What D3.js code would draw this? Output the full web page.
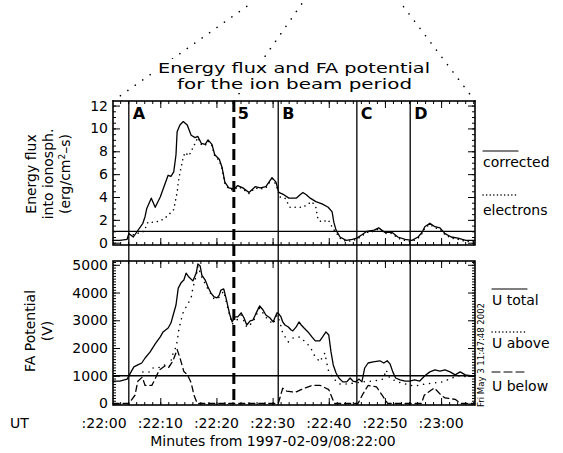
<!DOCTYPE html>
<html><head><meta charset="utf-8">
<script src="https://cdn.jsdelivr.net/npm/d3@7"></script>
<style>
body{margin:0;background:#fff;}
svg{display:block;}
text{font-family:"DejaVu Sans",sans-serif;fill:#000;}
</style></head>
<body>
<svg id="chart" width="563" height="453"></svg>
<script>
// ---------- data (time in seconds after 08:22:00) ----------
const timeTicks = [0, 10, 20, 30, 40, 50, 60];
const timeTickLabels = [":22:00", ":22:10", ":22:20", ":22:30", ":22:40", ":22:50", ":23:00"];
const fluxTicks = [0, 2, 4, 6, 8, 10, 12];
const potTicks = [0, 1000, 2000, 3000, 4000, 5000];

const intervalNames = ["A", "5", "B", "C", "D"];
const intervalTimes = [4.4, 23.1, 31.0, 45.0, 54.5];
const intervalDashed = [false, true, false, false, false];

const fluxThreshold = 1.0;     // erg/cm^2-s
const potThreshold = 1000;     // V

const fluxCorrected = [[1.6,0.2],[2.8,0.2],[4.1,0.3],[4.4,0.8],[5.2,0.5],[6.9,1.7],[7.3,2.3],[7.6,3.0],[8.4,3.9],[9.1,3.1],[10.0,4.0],[10.8,5.1],[11.4,5.9],[11.9,5.8],[12.4,6.2],[12.8,7.7],[13.0,9.7],[13.5,10.3],[14.1,10.6],[14.8,10.3],[15.5,9.4],[16.2,9.2],[16.7,9.3],[17.3,8.7],[18.0,8.6],[18.5,9.0],[19.2,8.6],[19.7,7.7],[20.5,7.3],[21.0,6.6],[21.5,5.3],[22.2,4.8],[23.1,4.7],[23.8,5.0],[24.7,4.8],[25.8,4.4],[26.9,4.9],[27.8,4.8],[28.8,4.9],[29.9,5.7],[30.6,5.3],[31.1,4.4],[32.0,4.2],[32.9,3.9],[34.2,3.9],[34.9,4.2],[35.4,4.4],[36.0,4.2],[36.7,3.9],[37.7,3.6],[38.8,3.4],[39.9,3.1],[40.6,2.7],[40.9,1.8],[41.3,1.1],[42.0,0.5],[43.1,0.2],[44.2,0.3],[45.0,0.4],[45.9,0.7],[46.8,1.0],[48.1,1.1],[48.9,1.3],[50.0,0.9],[51.3,0.9],[52.3,0.5],[53.6,0.3],[54.8,0.2],[55.9,0.5],[56.6,0.9],[57.1,1.4],[58.0,1.7],[58.9,1.4],[59.8,1.3],[60.7,0.8],[61.8,0.5],[63.0,0.4],[64.4,0.2],[66.0,0.2]];

const fluxElectrons = [[5.2,0.7],[7.1,1.0],[7.8,1.8],[8.7,1.8],[10.0,1.9],[11.2,2.3],[12.4,2.9],[13.0,4.4],[13.2,5.3],[13.5,6.1],[14.1,7.5],[14.4,7.9],[15.1,7.6],[15.8,8.3],[16.7,9.2],[17.3,8.6],[18.0,8.5],[18.5,8.9],[19.2,8.5],[19.7,7.6],[20.5,7.2],[21.0,6.5],[21.5,5.2],[22.2,4.7],[23.1,4.6],[23.8,4.9],[24.7,4.7],[25.8,4.3],[26.9,4.8],[27.8,4.7],[28.8,4.8],[29.9,5.6],[30.6,5.1],[31.3,4.0],[32.2,3.9],[33.1,3.1],[34.5,3.1],[35.4,3.1],[37.0,3.6],[37.7,3.1],[38.1,2.0],[38.8,1.8],[39.9,2.0],[40.8,1.2],[41.3,0.9],[42.0,0.4],[43.1,0.1],[44.2,0.2],[45.0,0.3],[45.9,0.6],[46.8,0.9],[48.1,1.0],[48.9,1.2],[50.0,0.8],[51.3,0.8],[52.3,0.4],[53.6,0.2],[54.8,0.1],[55.9,0.4],[56.6,0.8],[57.1,1.3],[58.0,1.6],[58.9,1.3],[59.8,1.2],[60.7,0.7],[61.8,0.4],[63.0,0.3],[64.4,0.1],[66.0,0.1]];

const uTotal = [[1.6,810],[2.8,810],[4.1,880],[4.8,1140],[5.3,1320],[6.0,1390],[6.7,1460],[7.3,1640],[8.2,1860],[9.1,2150],[10.0,2400],[10.5,2580],[11.4,2720],[11.9,2900],[12.3,3190],[12.8,3550],[13.2,4160],[13.7,4350],[14.2,4450],[14.6,4700],[15.1,4560],[15.8,4420],[16.4,4700],[16.7,5030],[17.1,4960],[17.4,4630],[18.0,4450],[18.5,4200],[19.0,3990],[19.6,3840],[20.1,3810],[20.5,3910],[20.8,4090],[21.3,4130],[21.7,3810],[22.1,3450],[22.4,3190],[22.8,2940],[23.3,3120],[23.8,3120],[24.4,3270],[24.9,3090],[25.4,2830],[26.0,2980],[26.5,3010],[27.0,3230],[27.7,3520],[28.3,3370],[28.8,3190],[29.5,3090],[30.1,2940],[30.4,3090],[30.8,3270],[31.1,3230],[31.5,3120],[31.8,2940],[32.2,2830],[32.8,2760],[33.3,2650],[33.6,2620],[34.2,2760],[34.7,2940],[35.1,2830],[35.6,2720],[36.3,2580],[37.0,2400],[37.6,2260],[38.4,2260],[38.9,2400],[39.5,2580],[40.0,2470],[40.4,1860],[40.8,1390],[41.3,1100],[41.8,920],[42.5,780],[43.2,780],[43.8,920],[44.3,810],[44.8,780],[45.4,880],[45.9,780],[46.4,1280],[47.0,1460],[47.9,1500],[49.1,1540],[49.8,1460],[50.4,1540],[50.9,1430],[51.4,1140],[51.9,920],[52.7,850],[53.6,810],[54.4,810],[55.3,850],[56.2,810],[57.1,1000],[58.0,1140],[58.9,1210],[59.8,1170],[60.7,1210],[61.6,1140],[62.5,1030],[63.4,1140],[64.3,1030],[65.2,1000],[66.0,1000]];

const uAbove = [[6.9,1140],[8.2,1140],[8.7,1280],[9.6,1280],[10.7,1390],[11.6,1320],[12.3,1820],[12.6,1930],[13.0,2220],[13.3,2650],[13.7,3010],[14.1,3300],[14.8,3550],[15.5,3810],[15.8,4160],[16.4,4600],[16.7,4950],[17.4,4550],[18.5,4120],[19.6,3760],[20.5,3830],[21.3,4050],[22.1,3370],[22.8,2860],[23.8,3040],[24.4,3190],[25.4,2750],[26.5,2930],[27.7,3440],[28.8,3110],[30.1,2860],[30.8,3190],[31.3,2940],[31.8,2540],[32.8,2220],[33.6,2360],[34.9,2400],[36.7,2040],[37.4,1750],[38.4,1500],[39.3,1820],[39.9,1210],[40.8,900],[42.0,700],[43.4,700],[44.8,750],[46.1,780],[47.9,810],[49.7,880],[50.2,1210],[50.9,900],[52.7,750],[55.2,630],[57.1,700],[60.2,780],[63.0,1000],[65.2,950]];

const uBelow = [[1.6,0],[4.4,0],[5.5,300],[6.0,800],[6.8,950],[7.3,650],[8.5,650],[9.0,850],[9.8,1200],[10.8,1350],[11.5,1300],[12.3,1550],[13.0,1950],[13.5,1650],[14.2,1150],[14.8,1050],[15.5,750],[16.0,300],[16.6,0],[31.0,0],[31.8,550],[32.5,450],[34.0,400],[35.6,550],[37.0,650],[38.5,650],[40.0,500],[41.0,0],[45.2,0],[46.1,350],[47.0,650],[48.5,600],[49.5,300],[50.5,0],[56.5,0],[57.0,300],[58.8,560],[60.0,300],[60.7,200],[62.5,150],[63.5,0],[66.0,0]];

// ---------- layout ----------
const svg = d3.select("#chart");
const L = 113, R = 475;
const topP = {t: 101, b: 245};
const botP = {t: 261, b: 405};

const x = d3.scaleLinear().domain([0, 60]).range([104.1, 441.1]);
const yTop = d3.scaleLinear().domain([-0.2, 12.4]).range([topP.b, topP.t]);
const yBot = d3.scaleLinear().domain([-54, 5137]).range([botP.b, botP.t]);
const xMin = x.invert(L), xMax = x.invert(R);

// zoom indicator dotted lines above the panels
const zoomLines = [[[L, topP.t], [253, 2]], [[x(intervalTimes[1]), topP.t], [303, 2]], [[R, topP.t], [400, 2]]];
svg.append("g").selectAll("line").data(zoomLines).join("line")
  .attr("x1", d => d[0][0]).attr("y1", d => d[0][1])
  .attr("x2", d => d[1][0]).attr("y2", d => d[1][1])
  .attr("stroke", "#000").attr("stroke-width", 1.6)
  .attr("stroke-linecap", "round")
  .attr("stroke-dasharray", "0.1,9");

// title
const titleG = svg.append("g");
titleG.append("rect").attr("x", 155).attr("y", 59).attr("width", 280).attr("height", 34).attr("fill", "#fff");
titleG.append("text").attr("x", 158).attr("y", 73).attr("font-size", 14)
  .attr("textLength", 272).attr("lengthAdjust", "spacingAndGlyphs").text("Energy flux and FA potential");
titleG.append("text").attr("x", 177).attr("y", 89).attr("font-size", 14)
  .attr("textLength", 235).attr("lengthAdjust", "spacingAndGlyphs").text("for the ion beam period");

function rangeStep(a, b, s) { const out = []; for (let v = a; v <= b + 1e-9; v += s) out.push(+v.toFixed(4)); return out; }

function drawPanel(P, y, majors, minorStep, labelFmt) {
  const g = svg.append("g");
  const minors = rangeStep(majors[0], y.domain()[1], minorStep).filter(v => v >= y.domain()[0] && v <= y.domain()[1]);
  g.append("g").attr("transform", `translate(${L},0)`)
    .call(d3.axisLeft(y).tickValues(minors).tickSize(-3).tickFormat(""));
  g.append("g").attr("transform", `translate(${L},0)`)
    .call(d3.axisLeft(y).tickValues(majors).tickSize(-7).tickPadding(5).tickFormat(labelFmt));
  g.append("g").attr("transform", `translate(${R},0)`)
    .call(d3.axisRight(y).tickValues(minors).tickSize(-3).tickFormat(""));
  g.append("g").attr("transform", `translate(${R},0)`)
    .call(d3.axisRight(y).tickValues(majors).tickSize(-7).tickFormat(""));
  const xMinors = rangeStep(0, 70, 10 / 7).filter(v => v >= xMin && v <= xMax);
  const xMajors = timeTicks.filter(v => v >= xMin && v <= xMax);
  g.append("g").attr("transform", `translate(0,${P.t})`)
    .call(d3.axisTop(x).tickValues(xMinors).tickSize(-3).tickFormat(""));
  g.append("g").attr("transform", `translate(0,${P.t})`)
    .call(d3.axisTop(x).tickValues(xMajors).tickSize(-7).tickFormat(""));
  g.append("g").attr("transform", `translate(0,${P.b})`)
    .call(d3.axisBottom(x).tickValues(xMinors).tickSize(-3).tickFormat(""));
  g.append("g").attr("transform", `translate(0,${P.b})`)
    .call(d3.axisBottom(x).tickValues(xMajors).tickSize(-7).tickFormat(""));
  g.selectAll(".domain").remove();
  g.selectAll(".tick line").attr("stroke", "#000").attr("stroke-width", 1);
  g.selectAll(".tick text").attr("font-size", 14).attr("font-family", "DejaVu Sans").attr("fill", "#000");
  g.append("rect").attr("x", L).attr("y", P.t).attr("width", R - L).attr("height", P.b - P.t)
    .attr("fill", "none").attr("stroke", "#000").attr("stroke-width", 1.6);
  return g;
}

drawPanel(topP, yTop, fluxTicks, 0.5, d3.format("d"));
drawPanel(botP, yBot, potTicks, 100, d3.format("d"));

// threshold lines
svg.append("line").attr("x1", L).attr("x2", R).attr("y1", yTop(fluxThreshold)).attr("y2", yTop(fluxThreshold))
  .attr("stroke", "#000").attr("stroke-width", 1.3);
svg.append("line").attr("x1", L).attr("x2", R).attr("y1", yBot(potThreshold)).attr("y2", yBot(potThreshold))
  .attr("stroke", "#000").attr("stroke-width", 1.3);

// curves
function curve(data, y, dash, w) {
  const line = d3.line().x(d => x(d[0])).y(d => y(d[1]));
  svg.append("path").datum(data).attr("d", line).attr("fill", "none")
    .attr("stroke", "#000").attr("stroke-width", w)
    .attr("stroke-linejoin", "round").attr("stroke-linecap", "round")
    .attr("stroke-dasharray", dash);
}
curve(fluxElectrons, yTop, "0.1,5", 1.5);
curve(fluxCorrected, yTop, null, 1.3);
curve(uAbove, yBot, "0.1,6", 1.5);
curve(uBelow, yBot, "6,4", 1.3);
curve(uTotal, yBot, null, 1.3);

// interval lines & labels
intervalTimes.forEach((t, i) => {
  svg.append("line").attr("x1", x(t)).attr("x2", x(t)).attr("y1", topP.t).attr("y2", botP.b)
    .attr("stroke", "#000")
    .attr("stroke-width", intervalDashed[i] ? 3 : 1.3)
    .attr("stroke-dasharray", intervalDashed[i] ? "11,5" : null);
  svg.append("text").attr("x", x(t) + 4).attr("y", 119)
    .attr("font-size", 16).attr("font-weight", "bold").text(intervalNames[i]);
});

// axis titles
function vText(lines, cx, cy, gap) {
  lines.forEach((s, i) => {
    const t = svg.append("text").attr("transform", `translate(${cx + i * gap},${cy}) rotate(-90)`)
      .attr("text-anchor", "middle").attr("font-size", 14);
    if (Array.isArray(s)) {
      s.forEach(p => t.append("tspan").attr("baseline-shift", p.sup ? "super" : null)
        .attr("font-size", p.sup ? 9 : null).text(p.t));
    } else t.text(s);
  });
}
vText(["Energy flux", "into ionosph.", [{t: "(erg/cm"}, {t: "2", sup: true}, {t: "\u2013s)"}]], 36, 174, 17);
vText(["FA Potential", "(V)"], 35, 331, 17);

// x tick labels
svg.append("g").selectAll("text").data(timeTicks).join("text")
  .attr("x", d => x(d)).attr("y", 428).attr("text-anchor", "middle").attr("font-size", 14)
  .text((d, i) => timeTickLabels[i]);
svg.append("text").attr("x", 10).attr("y", 428).attr("font-size", 14).text("UT");
svg.append("text").attr("x", 273).attr("y", 446).attr("text-anchor", "middle").attr("font-size", 14)
  .text("Minutes from 1997-02-09/08:22:00");

// legends
function legend(x0, y0, label, dash, ty) {
  svg.append("line").attr("x1", x0).attr("x2", x0 + 35).attr("y1", y0).attr("y2", y0)
    .attr("stroke", "#000").attr("stroke-width", dash && dash.startsWith("0.1") ? 1.5 : 1.2)
    .attr("stroke-linecap", "round").attr("stroke-dasharray", dash);
  svg.append("text").attr("x", x0).attr("y", ty).attr("font-size", 14).text(label);
}
legend(483, 151, "corrected", null, 167);
legend(483, 195, "electrons", "0.1,3.5", 215);
legend(492, 289, "U total", null, 305);
legend(492, 332, "U above", "0.1,3.5", 348);
legend(492, 372, "U below", "8,4", 391);

// timestamp
svg.append("text").attr("transform", "translate(484,407) rotate(-90)").attr("font-size", 8)
  .attr("textLength", 104).attr("lengthAdjust", "spacingAndGlyphs").text("Fri May  3 11:47:48 2002");
</script>
</body></html>
